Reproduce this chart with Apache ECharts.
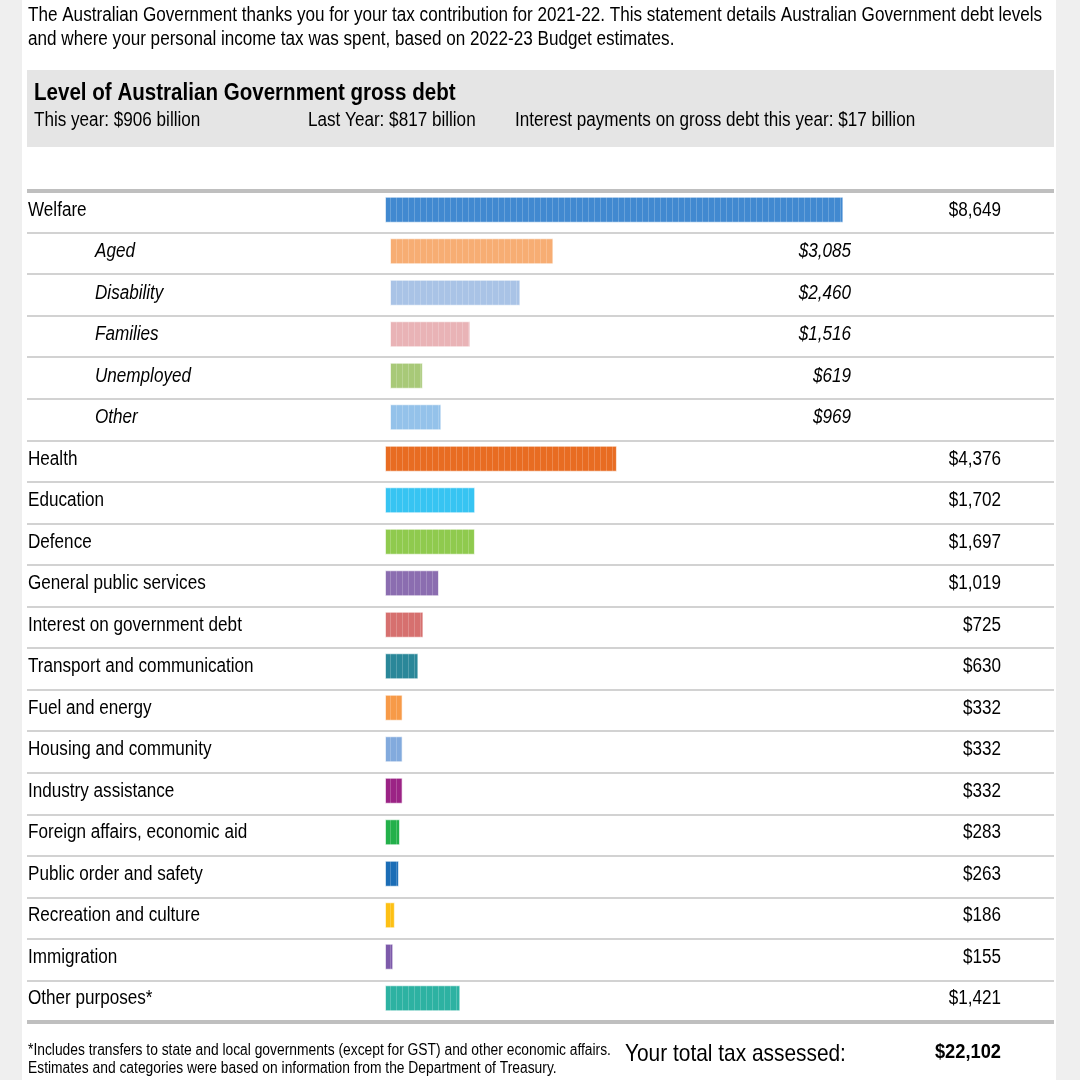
<!DOCTYPE html>
<html>
<head>
<meta charset="utf-8">
<script src="https://cdn.jsdelivr.net/npm/echarts@6/dist/echarts.min.js"></script>
<style>
html,body{margin:0;padding:0;background:#efefef;}
#chart{width:1080px;height:1080px;}
</style>
</head>
<body>
<div id="chart"></div>
<script>
// ---- data ----
const categories = ['Welfare','Aged','Disability','Families','Unemployed','Other','Health','Education','Defence','General public services','Interest on government debt','Transport and communication','Fuel and energy','Housing and community','Industry assistance','Foreign affairs, economic aid','Public order and safety','Recreation and culture','Immigration','Other purposes*'];
const isSub = [false,true,true,true,true,true,false,false,false,false,false,false,false,false,false,false,false,false,false,false];
const amounts = [8649,3085,2460,1516,619,969,4376,1702,1697,1019,725,630,332,332,332,283,263,186,155,1421];
const barColors = ['#4189d0','#f7ad73','#a9c3e6','#e9b3b6','#a8c978','#94c2ea','#e86c22','#37c4f2','#8fca4e','#8b6db0','#d6706f','#2a8799','#f79a48','#82aadd','#9b2385','#23b04a','#1b6db6','#fdc014','#7d5aaa','#2db2a2'];
const introLines = ['The Australian Government thanks you for your tax contribution for 2021-22. This statement details Australian Government debt levels','and where your personal income tax was spent, based on 2022-23 Budget estimates.'];
const debtTitle = 'Level of Australian Government gross debt';
const debtFacts = ['This year: $906 billion','Last Year: $817 billion','Interest payments on gross debt this year: $17 billion'];
const footnotes = ['*Includes transfers to state and local governments (except for GST) and other economic affairs.','Estimates and categories were based on information from the Department of Treasury.'];
const totalLabel = 'Your total tax assessed:';
const totalTax = 22102;

const FONT = "'Liberation Sans',Arial,sans-serif";
const K = 0.855; // horizontal squeeze to mimic a narrow face
const INK = '#000';
const fmt = v => '$' + v.toLocaleString('en-US');

const decal = {symbol:'rect', symbolSize:1, color:'rgba(255,255,255,0.2)', dashArrayX:[1,5], dashArrayY:[1,0], rotation:0};

function mk(subFlag){
  return amounts.map((v,i)=> isSub[i]===subFlag ? {value:v, itemStyle:{color:barColors[i]}} : null);
}
function txt(x, y, text, font, sx, align){
  return {type:'text', x:x, y:y, scaleX:sx, silent:true,
    style:{text:text, font:font, fill:INK, align:align||'left', verticalAlign:'middle'}};
}

const chart = echarts.init(document.getElementById('chart'), null, {renderer:'canvas'});
const S = 0.0530; // px per dollar
const gridW = 1027;
const ext = (zeroX)=>({min: -(zeroX-27)/S, max: gridW/S - (zeroX-27)/S});

const option = {
  backgroundColor:'#efefef',
  animation:false,
  textStyle:{fontFamily:FONT},
  graphic:[
    {type:'rect', z:-10, shape:{x:22,y:0,width:1034,height:1080}, style:{fill:'#ffffff'}},
    {type:'rect', z:-9, shape:{x:27,y:70,width:1027,height:77}, style:{fill:'#e5e5e5'}},
    txt(28, 15, introLines[0], '20px '+FONT, K),
    txt(28, 39, introLines[1], '20px '+FONT, K),
    txt(34, 94, debtTitle, 'bold 23px '+FONT, 0.894),
    txt(34, 120, debtFacts[0], '20px '+FONT, K),
    txt(308, 120, debtFacts[1], '20px '+FONT, K),
    txt(515, 120, debtFacts[2], '20px '+FONT, K),
    txt(28, 1051, footnotes[0], '16px '+FONT, 0.864),
    txt(28, 1069, footnotes[1], '16px '+FONT, 0.864),
    txt(625, 1054, totalLabel, '24px '+FONT, 0.87),
    txt(1001, 1052, fmt(totalTax), 'bold 21px '+FONT, 0.87, 'right')
  ],
  grid:[
    {left:27, right:26, top:189, height:830},
    {left:27, right:26, top:189, height:830},
    {left:27, right:26, top:191, height:831}
  ],
  xAxis:[
    Object.assign({gridIndex:0, type:'value', show:false}, ext(385)),
    Object.assign({gridIndex:1, type:'value', show:false}, ext(390)),
    {gridIndex:2, type:'value', position:'top', min:0, max:1, axisLine:{show:true, lineStyle:{color:'#bfbfbf', width:4, cap:'butt'}}, axisTick:{show:false}, axisLabel:{show:false}, splitLine:{show:false}},
    {gridIndex:2, type:'value', position:'bottom', min:0, max:1, axisLine:{show:true, lineStyle:{color:'#bfbfbf', width:4, cap:'butt'}}, axisTick:{show:false}, axisLabel:{show:false}, splitLine:{show:false}}
  ],
  yAxis:[
    {gridIndex:0, type:'category', inverse:true, data:categories,
      axisLine:{show:false}, axisTick:{show:false}, splitLine:{show:false}, axisLabel:{show:false}},
    {gridIndex:1, type:'category', inverse:true, data:categories, show:false},
    {gridIndex:2, type:'category', inverse:true, data:categories,
      axisLine:{show:false}, axisTick:{show:false}, axisLabel:{show:false},
      splitLine:{show:true, showMinLine:false, showMaxLine:false, lineStyle:{color:'#d2d2d2', width:2}}}
  ],
  series:[
    {type:'bar', xAxisIndex:0, yAxisIndex:0, data:mk(false), barWidth:26, silent:true,
      itemStyle:{borderColor:'rgba(255,255,255,0.35)', borderWidth:1, decal:decal}},
    {type:'bar', xAxisIndex:1, yAxisIndex:1, data:mk(true), barWidth:26, silent:true,
      itemStyle:{borderColor:'rgba(255,255,255,0.35)', borderWidth:1, decal:decal}},
    {type:'custom', xAxisIndex:0, yAxisIndex:0, silent:true, z:5,
      data: categories.map((c,i)=>[amounts[i], c]),
      encode:{x:0, y:1},
      renderItem:function(params, api){
        const i = params.dataIndex;
        const cs = params.coordSys;
        const y = api.coord([0, api.value(1)])[1] + 0.5;
        const sub = isSub[i];
        const f = (sub ? 'italic ' : '') + '20px ' + FONT;
        return {type:'group', children:[
          txt(cs.x + 1 + (sub ? 67 : 0), y, categories[i], f, K, 'left'),
          txt(cs.x + cs.width - (sub ? 203 : 53), y, fmt(amounts[i]), f, K, 'right')
        ]};
      }}
  ]
};
chart.setOption(option);
</script>
</body>
</html>
